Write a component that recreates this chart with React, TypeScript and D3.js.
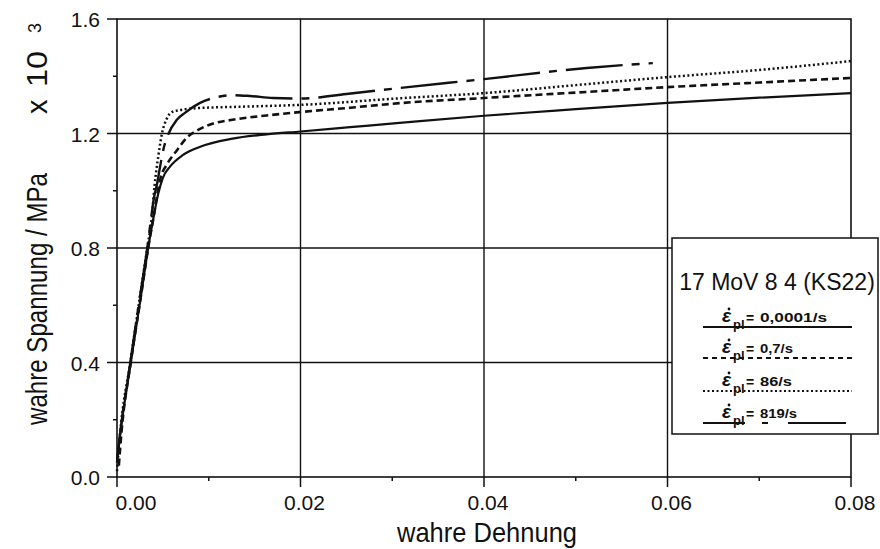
import React from "react";
import * as d3 from "d3";

// True strain / true stress (x10^3 MPa) for 17 MoV 8 4 (KS22) at four plastic strain rates
const strainRate0001 = [0, 0.0003, 0.0015, 0.0026, 0.0035, 0.004, 0.0045, 0.005, 0.0058, 0.0072, 0.009, 0.0126, 0.0163, 0.02, 0.0254, 0.0308, 0.04, 0.05, 0.06, 0.07, 0.08];
const stressRate0001 = [0.06, 0.14, 0.4, 0.63, 0.82, 0.91, 0.99, 1.045, 1.085, 1.125, 1.153, 1.182, 1.197, 1.207, 1.222, 1.237, 1.262, 1.285, 1.307, 1.325, 1.341];

const strainRate07 = [0.0002, 0.0005, 0.0015, 0.0026, 0.0035, 0.004, 0.0044, 0.0048, 0.0054, 0.0065, 0.0076, 0.009, 0.0105, 0.0126, 0.0163, 0.02, 0.0254, 0.0308, 0.04, 0.05, 0.06, 0.07, 0.08];
const stressRate07 = [0.04, 0.16, 0.4, 0.63, 0.82, 0.91, 0.99, 1.05, 1.09, 1.14, 1.185, 1.215, 1.235, 1.248, 1.263, 1.275, 1.29, 1.306, 1.324, 1.343, 1.362, 1.378, 1.394];

const strainRate86 = [0, 0.0003, 0.0015, 0.0025, 0.0033, 0.0038, 0.0041, 0.0045, 0.0049, 0.0054, 0.006, 0.0069, 0.009, 0.014, 0.02, 0.0308, 0.04, 0.05, 0.06, 0.07, 0.08];
const stressRate86 = [0.02, 0.14, 0.41, 0.63, 0.8, 0.91, 1.02, 1.12, 1.2, 1.25, 1.275, 1.282, 1.289, 1.294, 1.3, 1.323, 1.341, 1.369, 1.397, 1.422, 1.453];

const strainRate819 = [0, 0.0003, 0.0015, 0.0025, 0.0033, 0.0037, 0.004, 0.0044, 0.0047, 0.0051, 0.0055, 0.0065, 0.0074, 0.009, 0.0109, 0.0126, 0.0145, 0.017, 0.02, 0.025, 0.0308, 0.04, 0.0512, 0.0584];
const stressRate819 = [0.05, 0.14, 0.41, 0.63, 0.8, 0.9, 0.97, 1.03, 1.085, 1.15, 1.19, 1.247, 1.272, 1.306, 1.327, 1.334, 1.331, 1.324, 1.322, 1.338, 1.359, 1.39, 1.429, 1.446];

const rateLabels = ["0,0001/s", "0,7/s", "86/s", "819/s"];
const rateLabelWidths = [67, 33, 32, 37];

const xMajorTicks = [0, 0.02, 0.04, 0.06, 0.08];
const xTickLabels = ["0.00", "0.02", "0.04", "0.06", "0.08"];
const xMinorTicks = [0.01, 0.03, 0.05, 0.07];
const yMajorTicks = [0, 0.4, 0.8, 1.2, 1.6];
const yTickLabels = ["0.0", "0.4", "0.8", "1.2", "1.6"];
const yMinorTicks = [0.2, 0.6, 1.0, 1.4];

const FONT = "'Liberation Sans', Arial, Helvetica, sans-serif";
const INK = "#111";

const x = d3.scaleLinear().domain([0, 0.08]).range([117, 851]);
const y = d3.scaleLinear().domain([0, 1.6]).range([477, 19]);

const line = d3
  .line<[number, number]>()
  .x((d) => x(d[0]))
  .y((d) => y(d[1]))
  .curve(d3.curveMonotoneX);

const zip = (a: number[], b: number[]) => a.map((v, i) => [v, b[i]] as [number, number]);

const series = [
  { pts: zip(strainRate0001, stressRate0001), dash: "none", w: 2.2 },
  { pts: zip(strainRate07, stressRate07), dash: "7 4", w: 2.6 },
  { pts: zip(strainRate86, stressRate86), dash: "2 2.5", w: 2.5 },
  { pts: zip(strainRate819, stressRate819), dash: "57 9 8 9", w: 2.4 },
];

const legendDash = ["none", "5 4", "2 2.5", "42 17 6 20 58 100"];

export default function App() {
  const x0 = x(0);
  const x1 = x(0.08);
  const y0 = y(0);
  const y1 = y(1.6);

  const legX = 672;
  const legY = 238;
  const legW = 206;
  const legH = 196;
  const entryY = [327, 358, 391, 423];

  return (
    <svg
      width={880}
      height={549}
      viewBox="0 0 880 549"
      style={{ position: "absolute", left: 0, top: 0, background: "#fff" }}
      fontFamily={FONT}
    >
      <rect x={0} y={0} width={880} height={549} fill="#fff" />

      {/* grid */}
      {xMajorTicks.slice(1, -1).map((t) => (
        <line key={"gx" + t} x1={x(t)} x2={x(t)} y1={y0} y2={y1} stroke={INK} strokeWidth={1.4} />
      ))}
      {yMajorTicks.slice(1, -1).map((t) => (
        <line key={"gy" + t} x1={x0} x2={x1} y1={y(t)} y2={y(t)} stroke={INK} strokeWidth={1.4} />
      ))}

      {/* frame */}
      <rect x={x0} y={y1} width={x1 - x0} height={y0 - y1} fill="none" stroke={INK} strokeWidth={1.6} />

      {/* ticks */}
      {xMajorTicks.map((t) => (
        <line key={"xt" + t} x1={x(t)} x2={x(t)} y1={y0} y2={y0 + 10} stroke={INK} strokeWidth={1.5} />
      ))}
      {xMinorTicks.map((t) => (
        <line key={"xm" + t} x1={x(t)} x2={x(t)} y1={y0} y2={y0 + 4} stroke={INK} strokeWidth={1.5} />
      ))}
      {yMajorTicks.map((t) => (
        <line key={"yt" + t} x1={x0 - 10} x2={x0} y1={y(t)} y2={y(t)} stroke={INK} strokeWidth={1.5} />
      ))}
      {yMinorTicks.map((t) => (
        <line key={"ym" + t} x1={x0 - 4} x2={x0} y1={y(t)} y2={y(t)} stroke={INK} strokeWidth={1.5} />
      ))}

      {/* tick labels */}
      {xMajorTicks.map((t, i) => (
        <text
          key={"xl" + t}
          x={i === 0 ? x(t) + 19 : x(t) + 4}
          y={510}
          textAnchor="middle"
          fontSize={21}
          fill={INK}
        >
          {xTickLabels[i]}
        </text>
      ))}
      {yMajorTicks.map((t, i) => (
        <text key={"yl" + t} x={100} y={y(t) + 8} textAnchor="end" fontSize={21} fill={INK}>
          {yTickLabels[i]}
        </text>
      ))}

      {/* axis titles */}
      <text x={397} y={542} fontSize={28} textLength={180} lengthAdjust="spacingAndGlyphs" fill={INK}>
        wahre Dehnung
      </text>
      <g transform="translate(47,425) rotate(-90)">
        <text x={0} y={0} fontSize={29} textLength={252} lengthAdjust="spacingAndGlyphs" fill={INK}>
          wahre Spannung / MPa
        </text>
        <text x={311} y={0} fontSize={29} fill={INK}>
          x
        </text>
        <text x={338} y={0} fontSize={29} textLength={36} lengthAdjust="spacingAndGlyphs" fill={INK}>
          10
        </text>
        <text x={392} y={-6} fontSize={18} fill={INK}>
          3
        </text>
      </g>

      {/* curves */}
      {series.map((s, i) => (
        <path
          key={"s" + i}
          d={line(s.pts) || ""}
          fill="none"
          stroke={INK}
          strokeWidth={s.w}
          strokeDasharray={s.dash}
          strokeLinejoin="round"
        />
      ))}

      {/* legend */}
      <rect x={legX} y={legY} width={legW} height={legH} fill="#fff" stroke={INK} strokeWidth={1.5} />
      <text x={legX + legW / 2 + 2} y={290} textAnchor="middle" fontSize={23} fill={INK}>
        17 MoV 8 4 (KS22)
      </text>
      {entryY.map((ly, i) => (
        <g key={"le" + i}>
          <line
            x1={703}
            x2={852}
            y1={ly}
            y2={ly}
            stroke={INK}
            strokeWidth={i === 1 ? 2.2 : 2}
            strokeDasharray={legendDash[i]}
          />
          <text x={722} y={ly - 5} fontSize={19} fontStyle="italic" fontWeight="bold" fill={INK}>
            ε
          </text>
          <circle cx={729} cy={ly - 18} r={1.4} fill={INK} />
          <text x={733} y={ly + 2} fontSize={13} fontWeight="bold" fill={INK}>
            pl
          </text>
          <text x={746} y={ly - 4} fontSize={14} fontWeight="bold" fill={INK}>
            =
          </text>
          <text
            x={760}
            y={ly - 5}
            fontSize={12}
            fontWeight="bold"
            textLength={rateLabelWidths[i]}
            lengthAdjust="spacingAndGlyphs"
            fill={INK}
          >
            {rateLabels[i]}
          </text>
        </g>
      ))}
    </svg>
  );
}
